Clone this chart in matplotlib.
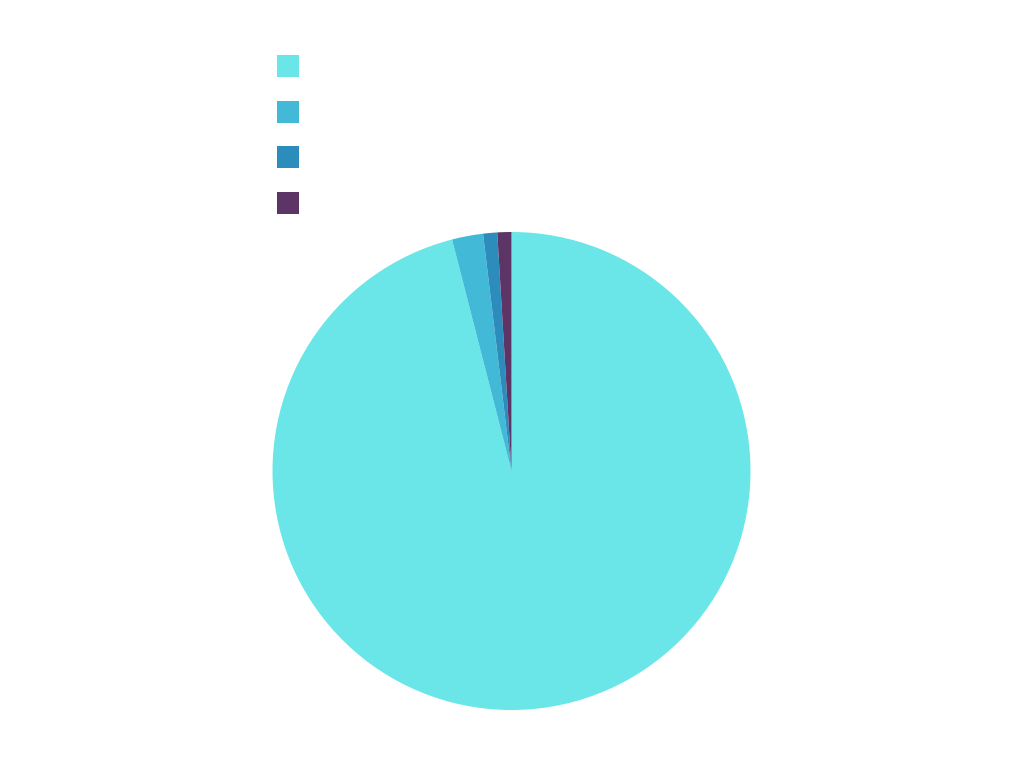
import matplotlib.pyplot as plt
from matplotlib.patches import Patch

labels = ['', '', '', '']
values = [96.0, 2.1, 0.95, 0.95]
colors = ['#6AE5E8', '#42B9D6', '#2C8CBB', '#5C3566']

fig = plt.figure(figsize=(10.24, 7.68), dpi=100)
ax = fig.add_axes([272.5/1024, 58/768, 478/1024, 478/768])
ax.pie(values, colors=colors, startangle=90, counterclock=False,
       wedgeprops={'linewidth': 0})
ax.set_xlim(-1, 1)
ax.set_ylim(-1, 1)
ax.set_aspect('equal')
ax.axis('off')

handles = [Patch(facecolor=c, edgecolor='none') for c in colors]
fig.legend(handles, labels, loc='upper left', bbox_to_anchor=(277/1024, 1 - 55/768),
           frameon=False, fontsize=12, handlelength=1.32, handleheight=1.654,
           labelspacing=1.42, borderpad=0, borderaxespad=0, handletextpad=0.5)

fig.savefig('out.png', dpi=100)
